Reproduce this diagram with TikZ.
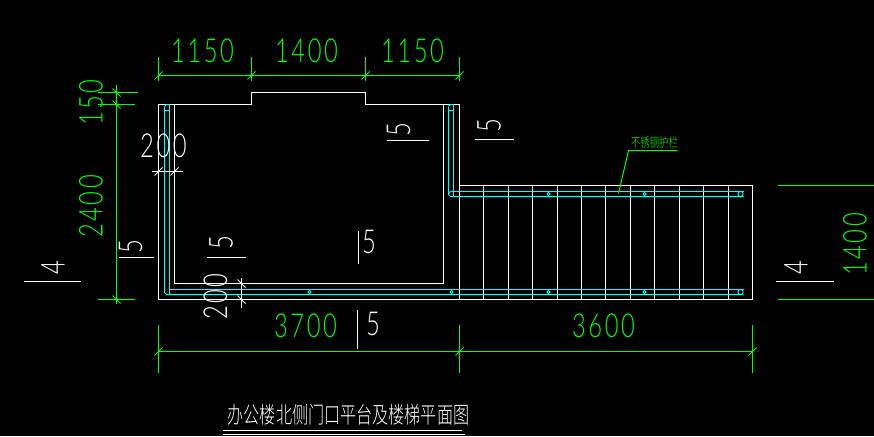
\documentclass[tikz,border=0pt]{standalone}
\usepackage{fontspec}
\newfontfamily\cadfont[LetterSpace=11]{Lato Light}
\newfontfamily\cadcjk{Noto Sans CJK SC Light}
\definecolor{cadgreen}{RGB}{0,255,0}
\definecolor{cadcyan}{RGB}{0,255,255}
\tikzset{
 wline/.style={draw=white,line width=1pt},
 gline/.style={draw=cadgreen,line width=1pt},
 cline/.style={draw=cadcyan,line width=1pt},
 cadnum/.style={inner sep=0pt,font=\cadfont\fontsize{33}{33}\selectfont},
 gtxt/.style={cadnum,text=cadgreen,xscale=.72},
 wtxt/.style={cadnum,text=white,xscale=.72},
 gvert/.style={cadnum,text=cadgreen,rotate=90,xscale=.72},
 wvert/.style={cadnum,text=white,rotate=90,xscale=.72},
}
\newcommand{\tkf}[3]{\draw[#1,line width=.8pt] (#2-4,#3+4) -- (#2+4,#3-4);}
\newcommand{\tkb}[3]{\draw[#1,line width=.8pt] (#2-4,#3-4) -- (#2+4,#3+4);}
\begin{document}
\begin{tikzpicture}[x=1pt,y=-1pt]
\fill[black] (0,0) rectangle (874,436);
\useasboundingbox (0,0) rectangle (874,436);
\begin{scope}[shift={(.5,.5)}]
% walls
\draw[wline] (158,104) -- (251,104) -- (251,92) -- (365,92) -- (365,104) -- (459,104) -- (459,185) -- (752,185) -- (752,299) -- (158,299) -- cycle;
\draw[wline] (174,104) -- (174,283) -- (443,283) -- (443,104);
\foreach \x in {459,483,508,532,557,581,605,630,654,679,703,728}
  \draw[wline] (\x,185) -- (\x,299);
% cyan rails
\draw[cline] (169,104) -- (169,289) -- (743,289);
\draw[cline] (164,106) -- (164,292) -- (166,294) -- (743,294);
\draw[cline] (169,294) -- (169,289);
\draw[cline] (164,110) -- (169,110);
\draw[cline] (164,106) -- (166,104) -- (169,104);
\draw[cline] (453,104) -- (453,196);
\draw[cline] (448,106) -- (448,194) -- (450,196) -- (743,196);
\draw[cline] (450,191) -- (743,191);
\draw[cline] (448,193) -- (450,191);
\draw[cline] (448,110) -- (453,110);
\draw[cline] (448,106) -- (450,104) -- (453,104);
\foreach \x/\y/\r in {548/193.5/1.6,644/193.5/1.6,740/193.5/2.6,309/291.5/1.6,451/291.5/1.6,548/291.5/1.6,644/291.5/1.6,740/291.5/2.6}
  \draw[cline,line width=.9pt] (\x,\y) circle (\r);
% top dimension
\draw[gline] (158,75) -- (459,75);
\foreach \x in {158,251,365,459} {\draw[gline] (\x,56) -- (\x,80); \tkf{gline}{\x}{75}}
\node[gtxt] (t1) at (202,50) {1150};
\node[gtxt] (t2) at (306,50) {1400};
\node[gtxt] (t3) at (412,50) {1150};
% left dimension
\draw[gline] (116,84) -- (116,303);
\draw[gline] (97,92) -- (137,92);
\draw[gline] (97,104) -- (134,104);
\draw[gline] (97,299) -- (134,299);
\tkb{gline}{116}{92}\tkb{gline}{116}{104}\tkb{gline}{116}{299}
\node[gvert] (t4) at (90.5,102) {150};
\node[gvert] (t5) at (90.5,206) {2400};
% bottom dimension
\draw[gline] (158,351) -- (752,351);
\foreach \x in {158,459,752} {\draw[gline] (\x,324) -- (\x,372); \tkf{gline}{\x}{351}}
\node[gtxt] (t6) at (305,325) {3700};
\node[gtxt] (t7) at (603,325) {3600};
% right dimension
\draw[gline] (777,185) -- (874,185);
\draw[gline] (777,299) -- (874,299);
\node[gvert] (t8) at (854.5,244) {1400};
% 200 marks
\draw[wline] (151,171) -- (182,171);
\tkf{wline}{158}{171}\tkf{wline}{174}{171}
\node[wtxt] (t9) at (163,145) {200};
\draw[wline] (241,277) -- (241,307);
\tkb{wline}{241}{283}\tkb{wline}{241}{299}
\node[wvert] (t10) at (215,296) {200};
% section marks
\draw[wline] (118,257) -- (153,257);
\node[wvert] (s1) at (130,246.5) {5};
\draw[wline] (206,257) -- (245,257);
\node[wvert] (s2) at (220.5,242.5) {5};
\draw[wline] (386,140) -- (428,140);
\node[wvert] (s3) at (398,129.5) {5};
\draw[wline] (474,139) -- (513,139);
\node[wvert] (s4) at (488.5,125.5) {5};
\draw[wline] (358,230) -- (358,263);
\node[wtxt] (s5) at (368.5,241) {5};
\draw[wline] (357,309) -- (357,348);
\node[wtxt] (s6) at (372.5,323) {5};
\draw[wline] (23,281) -- (80,281);
\node[wvert] (s7) at (52.5,267) {4};
\draw[wline] (775,281) -- (833,281);
\node[wvert] (s8) at (795.5,267) {4};
% leader
\draw[gline] (618,193) -- (628,150) -- (677,150);
\node[text=cadgreen,inner sep=0pt,xscale=.72,font=\cadcjk\fontsize{13}{13}\selectfont] (lab) at (654,142.5) {不锈钢护栏};
% title
\node[text=white,inner sep=0pt,xscale=.70,font=\cadcjk\fontsize{23}{23}\selectfont] (title) at (348,414.5) {办公楼北侧门口平台及楼梯平面图};
\draw[wline] (222,430) -- (461,430);
\draw[wline] (222,434) -- (464,434);
\end{scope}
\end{tikzpicture}
\end{document}
